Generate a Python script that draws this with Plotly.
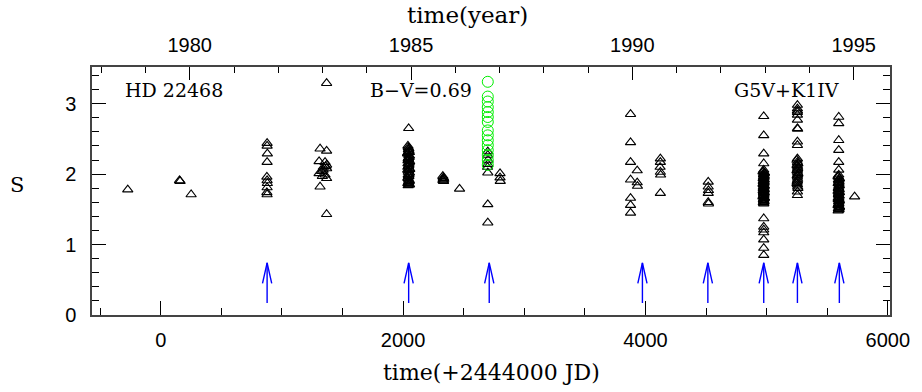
import plotly.graph_objects as go

# ---- data ----
tri_jd = [
    -272, 155, 160, 251,
    878, 878, 880, 878, 876, 878, 880, 878, 876, 878,
    1315, 1369, 1307, 1356, 1369, 1342, 1369, 1307, 1356, 1334, 1369, 1315, 1369, 1369, 1340, 1328, 1362,
    2046, 2040, 2048, 2044, 2052, 2038, 2046, 2050, 2042, 2046, 2054, 2040, 2048, 2044, 2050, 2038, 2046,
    2052, 2042, 2048, 2040, 2046, 2050, 2044, 2048, 2042,
    2043, 2049, 2037, 2053, 2045, 2041, 2051, 2047, 2039, 2055, 2043, 2049, 2045, 2041, 2051, 2047,
    2039, 2053, 2045, 2043,
    2328, 2332, 2336, 2330, 2334, 2332, 2330, 2466,
    2699, 2699, 2701, 2699, 2697, 2699, 2699, 2699,
    2800, 2800, 2802,
    3877, 3877, 3877, 3877, 3877, 3877, 3877, 3932, 3932, 3934,
    4123, 4123, 4121, 4123, 4125, 4123,
    4518, 4518, 4520, 4518, 4518, 4520,
    4976, 4976, 4976, 4976, 4976, 4972, 4980, 4976, 4974, 4978, 4976, 4972, 4980, 4976, 4974, 4978,
    4976, 4972, 4980, 4976, 4974, 4978, 4976, 4972, 4980, 4976, 4976, 4976, 4976, 4976, 4976, 4976,
    4976, 4976, 4976, 4976,
    4970, 4982, 4974, 4978, 4971, 4981, 4975, 4977, 4970, 4982, 4973, 4979, 4971, 4981, 4975, 4977,
    4970, 4982, 4973, 4979, 4972, 4980, 4976, 4974, 4978, 4976,
    5254, 5254, 5254, 5254, 5254, 5254, 5256, 5254, 5254, 5254, 5254, 5252, 5256, 5254, 5254, 5256,
    5254, 5252, 5254, 5256, 5254, 5254,
    5250, 5258, 5252, 5256, 5250, 5258, 5252, 5256, 5254, 5250, 5258, 5254,
    5595, 5595, 5595, 5595, 5595, 5595, 5595, 5591, 5599, 5595, 5593, 5597, 5595, 5591, 5599, 5595,
    5593, 5597, 5595, 5591, 5599, 5595, 5593, 5597, 5595, 5726,
    5589, 5601, 5592, 5598, 5590, 5600, 5594, 5596, 5589, 5601, 5592, 5598, 5590, 5600, 5594, 5596,
    5589, 5601, 5592, 5598, 5590, 5600, 5594, 5596,
]
tri_s = [
    1.78, 1.91, 1.90, 1.71,
    2.44, 2.40, 2.29, 2.17, 1.96, 1.91, 1.87, 1.81, 1.74, 1.71,
    2.36, 2.33, 2.18, 2.17, 2.13, 2.10, 2.08, 2.01, 1.99, 1.97, 1.94, 1.82, 1.43, 3.29, 2.06, 2.04, 2.11,
    2.65, 2.40, 2.36, 2.35, 2.31, 2.30, 2.27, 2.24, 2.22, 2.21, 2.18, 2.15, 2.14, 2.11, 2.08, 2.06, 2.05,
    2.02, 1.99, 1.97, 1.95, 1.92, 1.90, 1.88, 1.86, 1.84,
    2.38, 2.33, 2.29, 2.26, 2.23, 2.19, 2.16, 2.12, 2.10, 2.07, 2.03, 2.00, 1.98, 1.94, 1.91, 1.89,
    1.87, 1.85, 2.32, 2.20,
    1.97, 1.95, 1.93, 1.91, 1.90, 1.94, 1.92, 1.79,
    2.32, 2.27, 2.20, 2.14, 2.10, 2.02, 1.57, 1.31,
    2.01, 1.95, 1.90,
    2.85, 2.45, 2.17, 1.92, 1.66, 1.56, 1.45, 2.05, 1.88, 1.83,
    2.22, 2.17, 2.10, 2.03, 1.99, 1.73,
    1.89, 1.82, 1.77, 1.73, 1.60, 1.58,
    2.82, 2.55, 2.29, 2.15, 2.06, 2.03, 2.01, 1.99, 1.96, 1.95, 1.93, 1.90, 1.89, 1.87, 1.85, 1.84,
    1.81, 1.80, 1.78, 1.76, 1.75, 1.72, 1.71, 1.69, 1.67, 1.65, 1.63, 1.62, 1.59, 1.58, 1.37, 1.25,
    1.21, 1.17, 1.07, 0.95,
    2.04, 2.02, 2.00, 1.98, 1.94, 1.92, 1.91, 1.88, 1.86, 1.83, 1.82, 1.79, 1.77, 1.74, 1.73, 1.70,
    1.68, 1.66, 1.64, 1.61, 1.60, 1.97, 1.86, 1.74, 1.66, 0.85,
    2.98, 2.93, 2.88, 2.84, 2.77, 2.65, 2.64, 2.46, 2.41, 2.22, 2.17, 2.13, 2.10, 2.06, 2.03, 1.99,
    1.96, 1.89, 1.85, 1.82, 1.75, 1.70,
    2.20, 2.15, 2.12, 2.08, 2.05, 2.01, 1.98, 1.93, 1.91, 1.87, 1.80, 2.90,
    2.81, 2.72, 2.48, 2.34, 2.17, 2.06, 1.99, 1.96, 1.93, 1.91, 1.88, 1.86, 1.83, 1.80, 1.78, 1.75,
    1.73, 1.70, 1.67, 1.64, 1.62, 1.58, 1.55, 1.52, 1.49, 1.68,
    1.97, 1.94, 1.92, 1.89, 1.87, 1.84, 1.81, 1.79, 1.76, 1.74, 1.71, 1.69, 1.66, 1.63, 1.61, 1.59,
    1.56, 1.54, 1.51, 1.50, 1.48, 1.53, 1.57, 1.65,
]
circ_jd = [2699] * 15
circ_s = [3.31, 3.10, 3.03, 2.95, 2.88, 2.81, 2.74, 2.62, 2.55, 2.48, 2.41, 2.34, 2.27, 2.20, 2.13]
arrow_jd = [878, 2046, 2711, 3975, 4515, 4976, 5254, 5600]
arrow_tip = 0.74
arrow_base = 0.17

x_range = [-567, 6018]
y_range = [0, 3.52]
year_ticks = [1980, 1985, 1990, 1995]


def jd_to_year(jd):
    return 1980 + (jd - 239.5) / 365.25


# arrow geometry (style)
barb_dx = 38
barb_y = 0.45
ax_x, ax_y = [], []
for a in arrow_jd:
    ax_x += [a - barb_dx, a, a + barb_dx, None, a, a, None]
    ax_y += [barb_y, arrow_tip, barb_y, None, arrow_tip, arrow_base, None]

fig = go.Figure()
fig.add_trace(go.Scatter(x=ax_x, y=ax_y, mode="lines",
                         line=dict(color="#0000ff", width=1.4), hoverinfo="skip"))
fig.add_trace(go.Scatter(x=tri_jd, y=tri_s, mode="markers",
                         marker=dict(symbol="triangle-up-open", size=9, color="black",
                                     line=dict(width=1.1, color="black"))))
fig.add_trace(go.Scatter(x=circ_jd, y=circ_s, mode="markers",
                         marker=dict(symbol="circle-open", size=11, color="#00ee00",
                                     line=dict(width=1, color="#00ee00"))))
fig.add_trace(go.Scatter(x=[jd_to_year(x_range[0])], y=[None], xaxis="x2",
                         mode="markers", showlegend=False, hoverinfo="skip"))

tickfont = dict(family="Liberation Sans, Arial, sans-serif", size=20, color="black")
serif = "DejaVu Serif, serif"

fig.update_layout(
    width=922, height=392,
    margin=dict(l=92, r=25, t=67, b=77),
    paper_bgcolor="white", plot_bgcolor="white",
    showlegend=False,
    xaxis=dict(range=x_range, tick0=0, dtick=2000, ticks="inside", ticklen=14,
               tickcolor="black", showline=True, linecolor="#444", linewidth=1.5,
               showgrid=False, zeroline=False, tickfont=tickfont, ticklabelstandoff=6,
               minor=dict(dtick=500, tick0=0, ticks="inside", ticklen=7, tickcolor="black",
                          showgrid=False)),
    xaxis2=dict(overlaying="x", side="top",
                range=[jd_to_year(x_range[0]), jd_to_year(x_range[1])],
                tickvals=year_ticks, ticks="inside", ticklen=13, tickcolor="black",
                showline=True, linecolor="#444", linewidth=1.5, showgrid=False,
                zeroline=False, tickfont=tickfont, ticklabelstandoff=5,
                minor=dict(dtick=1, tick0=1980, ticks="inside", ticklen=6,
                           tickcolor="black", showgrid=False)),
    yaxis=dict(range=y_range, tick0=0, dtick=1, ticks="inside", ticklen=14,
               tickcolor="black", showline=True, linecolor="#444", linewidth=1.5,
               mirror="ticks", showgrid=False, zeroline=False, tickfont=tickfont,
               ticklabelstandoff=10,
               minor=dict(dtick=0.2, tick0=0, ticks="inside", ticklen=7, tickcolor="black",
                          showgrid=False)),
    annotations=[
        dict(text="time(+2444000 JD)", xref="paper", yref="paper", x=0.5, y=-0.23,
             yanchor="middle", showarrow=False, font=dict(family=serif, size=22, color="black")),
        dict(text="time(year)", xref="paper", yref="paper", x=0.47, y=1.21,
             yanchor="middle", showarrow=False, font=dict(family=serif, size=23, color="black")),
        dict(text="S", xref="paper", yref="paper", x=-0.105, y=0.524,
             showarrow=False, font=dict(family=serif, size=21, color="black")),
        dict(text="HD 22468", x=-311, y=3.19, xanchor="left", showarrow=False,
             font=dict(family=serif, size=19, color="black")),
        dict(text="B\u2212V=0.69", x=1710, y=3.2, xanchor="left", showarrow=False,
             font=dict(family=serif, size=19, color="black")),
        dict(text="G5V+K1IV", x=4714, y=3.19, xanchor="left", showarrow=False,
             font=dict(family=serif, size=19, color="black")),
    ],
)

fig.write_html("out.html")
